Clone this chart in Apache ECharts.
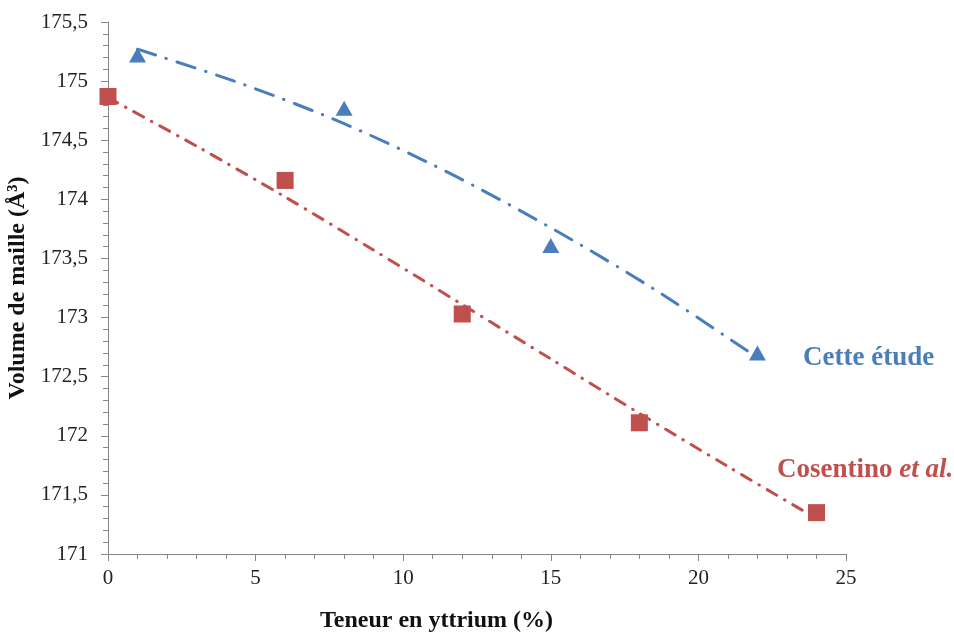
<!DOCTYPE html>
<html>
<head>
<meta charset="utf-8">
<script src="https://cdn.jsdelivr.net/npm/echarts@6/dist/echarts.min.js"></script>
<style>html,body{margin:0;padding:0;background:#fff}#c{width:954px;height:633px}</style>
</head>
<body>
<div id="c"></div>
<script>
// Data
const blueX = [1, 8, 15, 22];
const blueY = [175.22, 174.77, 173.61, 172.70];
const redX = [0, 6, 12, 18, 24];
const redY = [174.87, 174.16, 173.03, 172.11, 171.35];
// Trend lines
const blueTrendX = [1, 4.5, 8, 11.5, 15, 18.5, 22];
const blueTrendY = [175.27, 174.98, 174.64, 174.23, 173.76, 173.24, 172.66];
const redTrendX = [0, 3, 6, 9, 12, 15, 18, 21, 24];
const redTrendY = [174.86, 174.45, 174.02, 173.57, 173.11, 172.65, 172.19, 171.74, 171.30];
const xTicks = [0, 5, 10, 15, 20, 25];
const yTicks = [171, 171.5, 172, 172.5, 173, 173.5, 174, 174.5, 175, 175.5];

const BLUE = '#4A7EBB', RED = '#C0504D';
const FONT = '"Liberation Serif", "Times New Roman", serif';
const pairs = (xs, ys) => xs.map((x, i) => [x, ys[i]]);

const chart = echarts.init(document.getElementById('c'));
const axisCommon = {
  axisLine: { show: true, lineStyle: { color: '#868686', width: 1 } },
  axisTick: { show: true, inside: false, length: 7, lineStyle: { color: '#868686' } },
  minorTick: { show: true, splitNumber: 5, length: 5, lineStyle: { color: '#868686' } },
  splitLine: { show: false },
  minorSplitLine: { show: false },
  axisLabel: { color: '#222', fontFamily: FONT, fontSize: 21 }
};
chart.setOption({
  animation: false,
  backgroundColor: '#fff',
  grid: { left: 108, right: 108, top: 22, bottom: 79, containLabel: false, outerBoundsMode: 'none' },
  xAxis: Object.assign({}, axisCommon, {
    type: 'value', min: xTicks[0], max: xTicks[xTicks.length - 1], interval: 5,
    axisLabel: Object.assign({}, axisCommon.axisLabel, { margin: 14 })
  }),
  yAxis: Object.assign({}, axisCommon, {
    type: 'value', min: yTicks[0], max: yTicks[yTicks.length - 1], interval: 0.5,
    name: 'Volume de maille (Å³)', nameLocation: 'middle', nameGap: 69,
    nameTextStyle: { fontFamily: FONT, fontWeight: 'bold', fontSize: 24, color: '#111' },
    axisLabel: Object.assign({}, axisCommon.axisLabel, { margin: 20,
      formatter: v => String(+v.toFixed(1)).replace('.', ',') })
  }),
  graphic: [
    { type: 'text', left: 320, top: 609, style: { text: 'Teneur en yttrium (%)', font: 'bold 24px ' + FONT, fill: '#111' } },
    { type: 'text', left: 803, top: 345, style: { text: 'Cette étude', font: 'bold 27px ' + FONT, fill: BLUE } },
    { type: 'text', left: 777, top: 457, style: {
        text: '{a|Cosentino }{b|et al.}',
        rich: {
          a: { font: 'bold 27px ' + FONT, fill: RED, fontFamily: FONT, fontWeight: 'bold', fontSize: 27, color: RED },
          b: { font: 'italic bold 27px ' + FONT, fill: RED, fontFamily: FONT, fontWeight: 'bold', fontStyle: 'italic', fontSize: 27, color: RED }
        }
      } }
  ],
  series: [
    { type: 'line', data: pairs(blueTrendX, blueTrendY), smooth: 0.3, showSymbol: false, silent: true,
      lineStyle: { color: BLUE, width: 3, type: [19, 11, 0.5, 11], cap: 'round' } },
    { type: 'line', data: pairs(redTrendX, redTrendY), smooth: 0.3, showSymbol: false, silent: true,
      lineStyle: { color: RED, width: 3, type: [11, 9, 0.5, 9], cap: 'round' } },
    { type: 'scatter', data: pairs(blueX, blueY), symbol: 'triangle', symbolSize: [17, 15],
      itemStyle: { color: BLUE, opacity: 1 } },
    { type: 'scatter', data: pairs(redX, redY), symbol: 'rect', symbolSize: 17,
      itemStyle: { color: RED, opacity: 1 } }
  ]
});
</script>
</body>
</html>
